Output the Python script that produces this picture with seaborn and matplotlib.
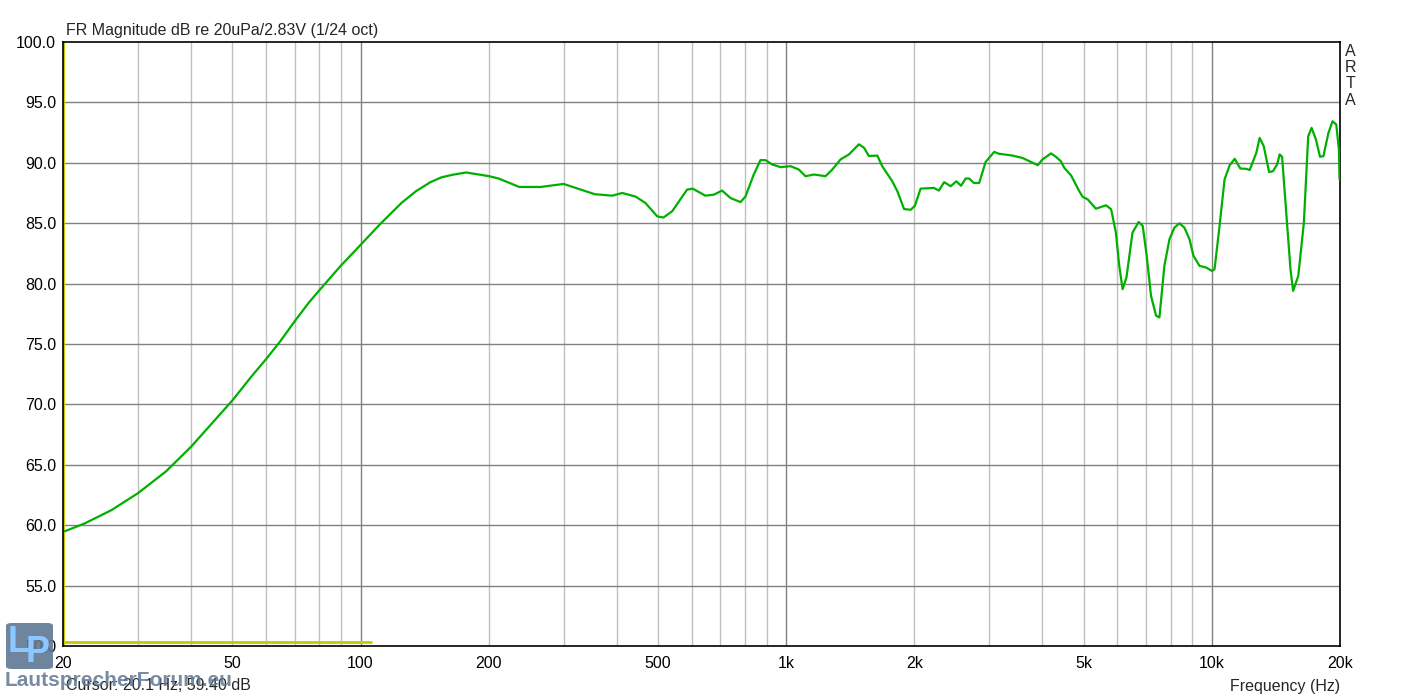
import numpy as np
import pandas as pd
import seaborn as sns
import matplotlib.pyplot as plt
from matplotlib.patches import FancyBboxPatch

# Frequency response
freq_hz = [20.2, 22.5, 26.0, 30, 34.9, 40, 44.8, 50, 55.4, 60, 64.7, 70, 75.5, 80, 90,
           100, 111, 125, 135, 146, 155, 164, 177, 200, 211, 236, 265, 300, 355, 390, 412, 443,
           467, 498, 515, 540, 585, 603, 646, 676, 707, 740, 781, 802, 839, 870, 894,
           927, 970, 1024, 1071, 1110, 1162, 1237, 1283, 1342, 1404, 1482, 1523, 1564,
           1637, 1681, 1775, 1825, 1892, 1961, 2006, 2069, 2165, 2223, 2284, 2350, 2435,
           2510, 2575, 2640, 2690, 2760, 2840, 2940, 3080, 3160, 3400, 3590, 3760, 3900,
           4000, 4190, 4300, 4416, 4500, 4670, 4880, 4970, 5110, 5340, 5640, 5800, 5950,
           6060, 6170, 6300, 6510, 6730, 6880, 7030, 7195, 7395, 7530, 7735, 7950, 8165,
           8390, 8620, 8860, 9055, 9353, 9697, 10000, 10146, 10425, 10710, 11007, 11313,
           11663, 12050, 12270, 12720, 12950, 13240, 13630, 13920, 14230, 14430, 14620,
           15030, 15300, 15520, 15960, 16450, 16840, 17150, 17560, 17950, 18280, 18790,
           19210, 19600, 19880, 19950]
spl_db = [59.5, 60.15, 61.25, 62.65, 64.45, 66.5, 68.45, 70.33, 72.3, 73.75, 75.2, 76.87,
          78.4, 79.44, 81.5, 83.2, 84.9, 86.7, 87.65, 88.4, 88.8, 89.0, 89.2, 88.9, 88.7, 88.0, 88.0,
          88.25, 87.4, 87.28, 87.5, 87.2, 86.67, 85.56, 85.47, 86.0, 87.78, 87.86, 87.28,
          87.36, 87.7, 87.08, 86.75, 87.2, 89.03, 90.22, 90.22, 89.86, 89.64, 89.72, 89.44,
          88.89, 89.03, 88.89, 89.44, 90.28, 90.69, 91.53, 91.25, 90.56, 90.6, 89.72, 88.47,
          87.64, 86.17, 86.11, 86.44, 87.86, 87.9, 87.92, 87.7, 88.4, 88.06, 88.47, 88.1,
          88.7, 88.7, 88.33, 88.33, 90.06, 90.9, 90.75, 90.6, 90.4, 90.06, 89.8, 90.28,
          90.78, 90.5, 90.14, 89.59, 88.95, 87.66, 87.19, 86.97, 86.2, 86.48, 86.15, 84.22,
          81.47, 79.54, 80.5, 84.22, 85.1, 84.77, 82.29, 78.99, 77.34, 77.2, 81.47, 83.67,
          84.63, 84.99, 84.63, 83.67, 82.29, 81.47, 81.33, 81.05, 81.19, 84.77, 88.62, 89.78,
          90.33, 89.53, 89.5, 89.4, 90.83, 92.06, 91.38, 89.23, 89.31, 89.86, 90.69, 90.5,
          84.77, 81.19, 79.4, 80.64, 85.05, 92.2, 92.89, 91.93, 90.5, 90.55, 92.48, 93.44,
          93.17, 91.1, 88.62]

# cursor marker (yellow)
cursor_freq = [20.1, 106]
cursor_level = [50.33, 50.33]

x_ticks = [20, 50, 100, 200, 500, 1000, 2000, 5000, 10000, 20000]
x_tick_labels = ["20", "50", "100", "200", "500", "1k", "2k", "5k", "10k", "20k"]
y_ticks = [50, 55, 60, 65, 70, 75, 80, 85, 90, 95, 100]

df = pd.DataFrame({"freq": freq_hz, "spl": spl_db})

sns.set_style("white")
plt.rcParams["font.family"] = ["Liberation Sans", "DejaVu Sans"]

fig = plt.figure(figsize=(14.04, 6.97), dpi=100)
ax = fig.add_axes([63 / 1404, 51 / 697, 1277 / 1404, 604 / 697])

ax.set_xscale("log")
ax.set_xlim(20, 20000)
ax.set_ylim(50, 100)

# grid: minor verticals light, decades darker, horizontals every 5 dB
minor = [m * d for d in (10, 100, 1000, 10000) for m in range(2, 10)]
for f in minor:
    if 20 <= f <= 20000:
        ax.axvline(f, color="#c0c0c0", lw=1, zorder=1)
for f in (100, 1000, 10000):
    ax.axvline(f, color="#808080", lw=1, zorder=1)
for y in y_ticks[1:-1]:
    ax.axhline(y, color="#808080", lw=1, zorder=1)

ax.plot(cursor_freq, cursor_level, color="#c8c800", lw=2, zorder=2)
ax.axvline(20.1, color="#c8c800", lw=1.5, zorder=2)

sns.lineplot(data=df, x="freq", y="spl", color="#00b000", lw=1.6, ax=ax, zorder=3)

ax.set_xticks(x_ticks)
ax.set_xticklabels(x_tick_labels)
ax.xaxis.set_minor_locator(plt.NullLocator())
ax.set_yticks(y_ticks)
ax.set_yticklabels([f"{v:.1f}" for v in y_ticks])
ax.tick_params(axis="both", length=0, labelsize=11.5, colors="black")
ax.tick_params(axis="x", pad=7)
ax.tick_params(axis="y", pad=5)
ax.set_xlabel("")
ax.set_ylabel("")
for s in ax.spines.values():
    s.set_color("black")
    s.set_linewidth(1.2)

fig.text(66 / 1404, 1 - 30 / 697, "FR Magnitude dB re 20uPa/2.83V (1/24 oct)",
         fontsize=11.5, va="center", ha="left")
for i, ch in enumerate("ARTA"):
    fig.text(1350 / 1404, 1 - (51 + i * 16.5) / 697, ch, fontsize=11.5,
             va="center", ha="center")
fig.text(1340 / 1404, 1 - 686 / 697, "Frequency (Hz)", fontsize=11.5,
         va="center", ha="right")
fig.text(66 / 1404, 1 - 686 / 697, "Cursor: 20.1 Hz, 59.40 dB", fontsize=11.5,
         va="center", ha="left")

# forum watermark logo
logo = FancyBboxPatch((6 / 1404, 1 - 669 / 697), 47 / 1404, 46 / 697,
                      boxstyle="round,pad=0,rounding_size=0.004",
                      transform=fig.transFigure, facecolor="#5f7793",
                      edgecolor="none", alpha=0.9, zorder=5)
fig.patches.append(logo)
fig.text(19 / 1404, 1 - 643 / 697, "L", fontsize=26, fontweight="bold",
         color="#8cc8ff", va="center", ha="center", zorder=6)
fig.text(38 / 1404, 1 - 652 / 697, "P", fontsize=26, fontweight="bold",
         color="#8cc8ff", va="center", ha="center", zorder=6)
fig.text(5 / 1404, 1 - 680 / 697, "LautsprecherForum.eu", fontsize=15,
         fontweight="bold", color="#5f7793", alpha=0.85, va="center", ha="left",
         zorder=6)

fig.savefig("out.png", dpi=100)
